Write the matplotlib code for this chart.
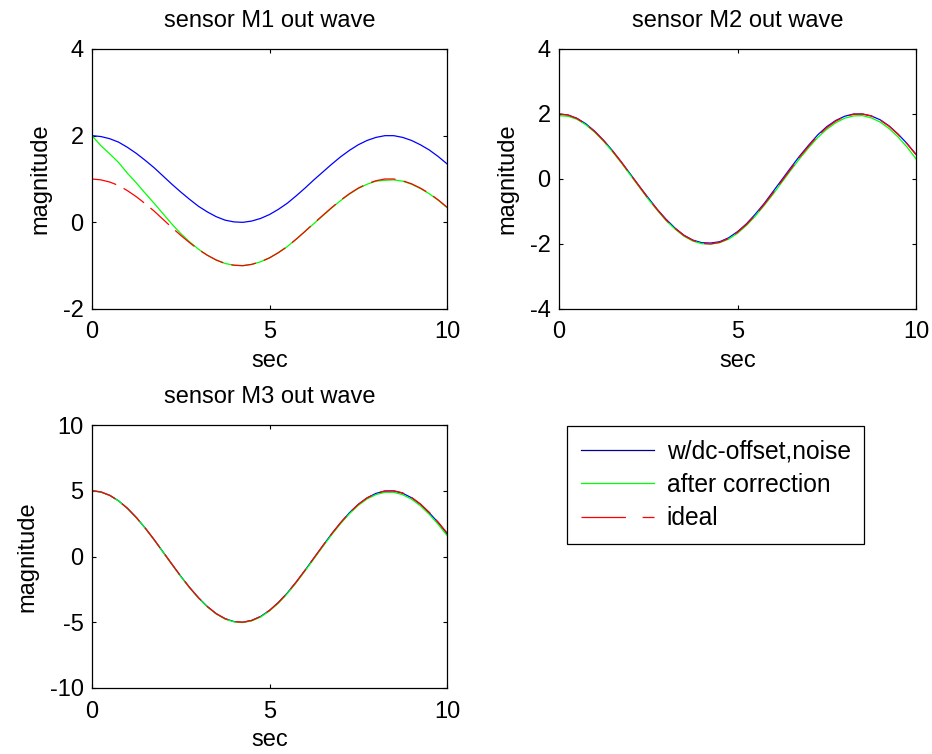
import matplotlib
matplotlib.use("Agg")
import matplotlib.pyplot as plt
from matplotlib.lines import Line2D

plt.rcParams['font.family'] = ['Liberation Sans', 'DejaVu Sans']
plt.rcParams['font.size'] = 17
plt.rcParams['lines.scale_dashes'] = False
plt.rcParams['axes.unicode_minus'] = False

# --- data (step 0.25 s) ---
t = [i * 0.25 for i in range(41)]

m1_noisy = [2.00, 1.98, 1.93, 1.85, 1.73, 1.59, 1.43, 1.26, 1.07, 0.88, 0.70, 0.53, 0.37, 0.24, 0.13, 0.05,
            0.01, 0.00, 0.03, 0.09, 0.18, 0.30, 0.44, 0.61, 0.79, 0.98, 1.16, 1.34, 1.51, 1.66, 1.79, 1.89,
            1.96, 2.00, 2.00, 1.96, 1.89, 1.79, 1.67, 1.52, 1.35]
m1_corr = [2.00, 1.77, 1.58, 1.38, 1.13, 0.91, 0.67, 0.44, 0.20, -0.04, -0.26, -0.45, -0.62, -0.76, -0.87, -0.95,
           -0.99, -1.00, -0.97, -0.91, -0.82, -0.70, -0.56, -0.39, -0.21, -0.03, 0.15, 0.33, 0.50, 0.65, 0.78, 0.88,
           0.95, 0.97, 0.98, 0.95, 0.88, 0.78, 0.66, 0.51, 0.34]
m1_ideal = [1.00, 0.98, 0.93, 0.85, 0.73, 0.59, 0.43, 0.26, 0.07, -0.12, -0.30, -0.47, -0.63, -0.76, -0.87, -0.95,
            -0.99, -1.00, -0.97, -0.91, -0.82, -0.70, -0.56, -0.39, -0.21, -0.02, 0.16, 0.34, 0.51, 0.66, 0.79, 0.89,
            0.96, 1.00, 1.00, 0.96, 0.89, 0.79, 0.67, 0.52, 0.35]

m2_noisy = [2.00, 1.97, 1.87, 1.70, 1.47, 1.19, 0.87, 0.52, 0.15, -0.22, -0.58, -0.93, -1.24, -1.51, -1.73, -1.88,
            -1.96, -1.97, -1.93, -1.81, -1.62, -1.38, -1.08, -0.75, -0.38, -0.01, 0.36, 0.72, 1.05, 1.36, 1.61, 1.80,
            1.93, 2.00, 2.00, 1.94, 1.82, 1.63, 1.38, 1.09, 0.76]
m2_corr = [1.95, 1.93, 1.84, 1.67, 1.44, 1.16, 0.84, 0.49, 0.12, -0.25, -0.62, -0.96, -1.28, -1.54, -1.76, -1.91,
           -1.99, -2.00, -1.96, -1.85, -1.67, -1.43, -1.14, -0.81, -0.46, -0.09, 0.28, 0.64, 0.97, 1.28, 1.53, 1.73,
           1.87, 1.94, 1.95, 1.88, 1.75, 1.55, 1.29, 0.98, 0.62]
m2_ideal = [2.00, 1.97, 1.86, 1.69, 1.46, 1.18, 0.86, 0.51, 0.14, -0.23, -0.60, -0.94, -1.26, -1.52, -1.74, -1.89,
            -1.98, -2.00, -1.95, -1.83, -1.64, -1.40, -1.11, -0.78, -0.42, -0.05, 0.32, 0.69, 1.02, 1.33, 1.58, 1.78,
            1.92, 1.99, 2.00, 1.94, 1.81, 1.62, 1.37, 1.08, 0.75]

m3_noisy = [5.00, 4.91, 4.65, 4.23, 3.66, 2.96, 2.16, 1.28, 0.35, -0.58, -1.50, -2.36, -3.14, -3.81, -4.35, -4.73,
            -4.95, -5.00, -4.86, -4.56, -4.10, -3.50, -2.78, -1.95, -1.05, -0.12, 0.81, 1.72, 2.56, 3.32, 3.96, 4.46,
            4.80, 4.98, 4.98, 4.81, 4.47, 3.97, 3.33, 2.58, 1.73]
m3_corr = [5.00, 4.90, 4.64, 4.22, 3.65, 2.95, 2.15, 1.27, 0.33, -0.60, -1.52, -2.38, -3.16, -3.83, -4.37, -4.76,
           -4.97, -5.02, -4.90, -4.60, -4.14, -3.55, -2.83, -2.00, -1.10, -0.18, 0.75, 1.65, 2.49, 3.25, 3.89, 4.38,
           4.71, 4.88, 4.88, 4.70, 4.36, 3.86, 3.21, 2.45, 1.60]
m3_ideal = [5.00, 4.91, 4.65, 4.23, 3.66, 2.96, 2.16, 1.28, 0.35, -0.58, -1.50, -2.36, -3.14, -3.81, -4.35, -4.73,
            -4.95, -5.00, -4.86, -4.56, -4.10, -3.50, -2.78, -1.95, -1.05, -0.12, 0.81, 1.72, 2.56, 3.32, 3.96, 4.46,
            4.80, 4.98, 5.00, 4.84, 4.50, 4.00, 3.36, 2.62, 1.80]

titles = ['sensor M1 out wave', 'sensor M2 out wave', 'sensor M3 out wave']
ylims = [(-2, 4), (-4, 4), (-10, 10)]
yticks = [[-2, 0, 2, 4], [-4, -2, 0, 2, 4], [-10, -5, 0, 5, 10]]
labels = ['w/dc-offset,noise', 'after correction', 'ideal']

W, H = 932, 754
fig = plt.figure(figsize=(W / 100, H / 100), dpi=100)

# axes boxes in pixels: left, top, right, bottom
boxes = [(92, 49, 447, 309), (559, 49, 916, 309), (92, 425, 447, 688)]
series = [(m1_noisy, m1_corr, m1_ideal), (m2_noisy, m2_corr, m2_ideal), (m3_noisy, m3_corr, m3_ideal)]

for k in range(3):
    l, tp, r, b = boxes[k]
    ax = fig.add_axes([l / W, 1 - b / H, (r - l) / W, (b - tp) / H])
    noisy, corr, ideal = series[k]
    ax.plot(t, noisy, color='#0000ff', lw=0.9)
    ax.plot(t, corr, color='#00ff00', lw=0.9)
    ax.plot(t, ideal, color='#ff0000', lw=0.9, linestyle=(0, (18, 6)))
    ax.set_xlim(0, 10)
    ax.set_ylim(*ylims[k])
    ax.set_xticks([0, 5, 10])
    ax.set_yticks(yticks[k])
    ax.tick_params(direction='in', top=True, right=True, length=3, width=0.8, pad=6)
    ax.tick_params(axis='x', pad=9)
    for s in ax.spines.values():
        s.set_linewidth(0.9)
    ax.set_title(titles[k], fontsize=17, pad=16)
    ax.set_xlabel('sec', labelpad=5)
    ax.set_ylabel('magnitude', labelpad=8)

handles = [Line2D([], [], color='#00008c', lw=0.9),
           Line2D([], [], color='#00ff00', lw=0.9),
           Line2D([], [], color='#ff0000', lw=0.9, linestyle=(0, (32, 12)))]
leg = fig.legend(handles, labels, loc='upper left', bbox_to_anchor=(567 / W, 1 - 426 / H),
                 frameon=True, fancybox=False, edgecolor='black', framealpha=1, fontsize=17.7,
                 handlelength=3.0, handletextpad=0.5, labelspacing=0.38, borderpad=0.55,
                 borderaxespad=0)
leg.get_frame().set_linewidth(0.9)

fig.savefig('out.png', dpi=100)
